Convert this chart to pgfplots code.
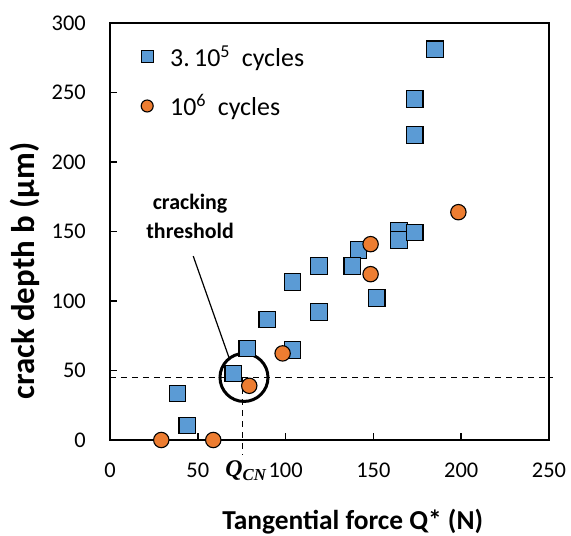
\documentclass[border=0pt]{standalone}
\usepackage{fontspec}
\setmainfont{Carlito}
\newfontfamily\cambria{Liberation Serif}
\usepackage{pgfplots}
\pgfplotsset{compat=1.18}
\definecolor{sqblue}{HTML}{5B9BD5}
\definecolor{dotorange}{HTML}{ED7D31}

\begin{document}
\begin{tikzpicture}
\path[use as bounding box] (-110bp,-96bp) rectangle (461bp,440bp);
\begin{axis}[
    scale only axis,
    width=439bp, height=417bp,
    xmin=0, xmax=250, ymin=0, ymax=300,
    xtick={0,50,...,250}, ytick={0,50,...,300},
    tick pos=left, tick align=inside,
    major tick length=7bp,
    axis line style={line width=1.5bp},
    every tick/.style={line width=1.5bp, black},
    /pgf/number format/assume math mode=true,
    tick label style={font=\fontsize{22.5}{26}\selectfont, inner sep=0pt},
    xticklabel style={anchor=center, yshift=-30.5bp},
    yticklabel style={anchor=east, xshift=-24bp},
    xlabel={\fontsize{27.5}{30}\selectfont\bfseries Tangential force Q* (N)},
    ylabel={\fontsize{33}{36}\selectfont\bfseries crack depth b (µm)},
    every axis x label/.style={at={(axis description cs:0.553,0)}, yshift=-89bp, anchor=base},
    every axis y label/.style={at={(axis description cs:0,0.405)}, xshift=-75bp, rotate=90, anchor=base},
    legend style={draw=none, fill=none, at={(axis description cs:0.0706,0.9465)}, anchor=north west,
        font=\fontsize{26}{28}\selectfont, row sep=27bp, inner sep=0pt,
        nodes={inner sep=0pt},
        /tikz/every odd column/.append style={column sep=17bp}},
    legend cell align=left,
    legend image code/.code={\draw[#1, mark size=6bp] plot coordinates {(0bp,0bp)};},
    clip=false,
]
% 3.10^5 cycles
\addplot[only marks, mark=square*, mark size=8.3bp,
    mark options={fill=sqblue, draw=black, line width=1.1bp}] coordinates {
    (185.1,281.1) (173.5,245.4) (173.5,219.5) (164.6,150.3) (164.6,143.8)
    (173.5,149.3) (141.6,136.6) (138.0,125.3) (119.0,125.3) (151.9,102.3)
    (104.0,113.8) (119.0,92.2) (89.6,86.7) (78.2,65.9) (104.0,64.7)
    (70.2,47.9) (38.5,33.5) (44.0,10.5)
};
\addlegendentry{3.\,10\textsuperscript{5}\ \ cycles}
% 10^6 cycles
\addplot[only marks, mark=*, mark size=7.7bp,
    mark options={fill=dotorange, draw=black, line width=1.1bp}] coordinates {
    (198.4,163.9) (148.4,140.9) (148.4,119.3) (98.3,62.3) (79.3,39.0)
    (29.2,0) (58.8,0)
};
\addlegendentry{10\textsuperscript{6}\ \ cycles}

% cracking threshold annotation
\draw[black, line width=1.3bp, dash pattern=on 6bp off 5bp] (axis cs:0,45) -- (axis cs:252.5,45);
\draw[black, line width=1.3bp, dash pattern=on 6bp off 5bp] (axis cs:75.5,45) -- (axis cs:75.5,-11);
\draw[black, line width=3bp] (axis cs:76.3,45) circle[radius=24bp];
\draw[black, line width=1.2bp] (axis cs:47.4,132.3) -- (axis cs:67.9,58.8);
\node[align=center, font=\fontsize{22}{29}\selectfont\bfseries] at (axis cs:45.6,160.6) {cracking\\threshold};
\node[font=\cambria\bfseries\itshape\fontsize{24}{26}\selectfont, inner sep=0pt] at (axis cs:77.4,0) [yshift=-31bp] {Q\textsubscript{CN}};
\end{axis}
\end{tikzpicture}
\end{document}
